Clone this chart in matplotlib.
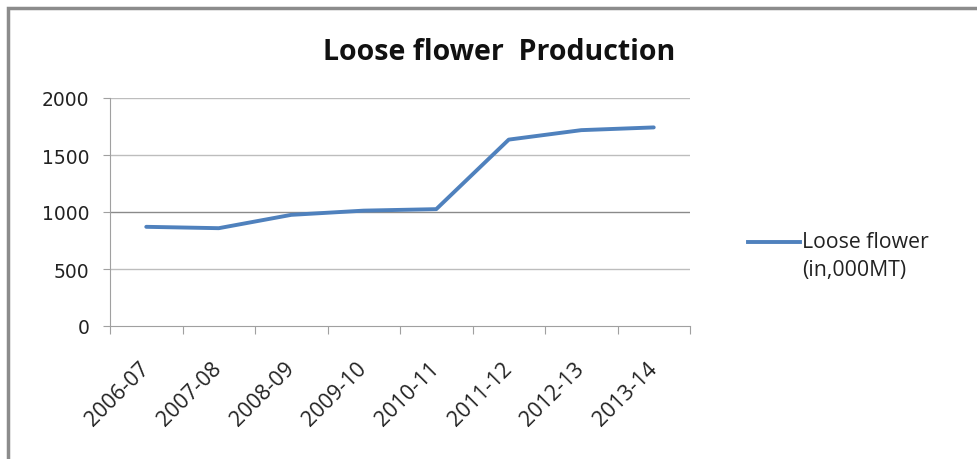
import matplotlib.pyplot as plt
from matplotlib.patches import Rectangle
from matplotlib.lines import Line2D

# data
years = ["2006-07", "2007-08", "2008-09", "2009-10", "2010-11",
         "2011-12", "2012-13", "2013-14"]
production = [870, 858, 975, 1012, 1025, 1635, 1718, 1742]
y_ticks = [0, 500, 1000, 1500, 2000]
series_name = "Loose flower\n(in,000MT)"

W, H = 977, 460
fig = plt.figure(figsize=(W / 100, H / 100), dpi=100)

# outer chart frame
fig.patches.append(Rectangle((8 / W, -0.02), 1.0, 1 - 9 / H + 0.02,
                             transform=fig.transFigure, fill=False,
                             edgecolor="#8c8c8c", linewidth=2.5))

ax = fig.add_axes([110 / W, 1 - 327 / H, 580 / W, 228 / H])

x = [i + 0.5 for i in range(len(years))]
line, = ax.plot(x, production, color="#4F81BD", linewidth=2.8,
                solid_capstyle="round")

ax.set_xlim(0, len(years))
ax.set_ylim(0, 2000)
ax.set_yticks(y_ticks)
ax.set_yticklabels([str(v) for v in y_ticks], family="DejaVu Sans",
                   fontsize=13.5, color="#222222")
ax.set_xticks(range(len(years) + 1))
ax.set_xticklabels([])
ax.set_xticks(x, minor=True)
ax.set_xticklabels(years, minor=True, rotation=45, ha="right", va="center",
                   rotation_mode="anchor", family="Open Sans",
                   fontsize=15.5, color="#222222")
ax.tick_params(axis="x", which="minor", length=0, pad=28)
ax.tick_params(axis="x", which="major", length=6, color="#a0a0a0", direction="out")
ax.tick_params(axis="y", length=5, color="#a0a0a0", direction="out", pad=10)

for v in y_ticks[1:]:
    ax.axhline(v, color="#8a8a8a" if v == 1000 else "#bdbdbd",
               linewidth=1.0, zorder=0)

for side in ["top", "right"]:
    ax.spines[side].set_visible(False)
ax.spines["left"].set_color("#a0a0a0")
ax.spines["bottom"].set_color("#a0a0a0")

fig.text(499 / W, 1 - 52 / H, "Loose flower  Production", ha="center",
         va="center", family="Open Sans", fontweight="bold", fontsize=20.5,
         color="#111111")

# legend: handle aligned with the first text line
fig.add_artist(Line2D([748 / W, 800 / W], [1 - 243 / H, 1 - 243 / H],
                      transform=fig.transFigure, color=line.get_color(),
                      linewidth=2.8))
fig.text(802 / W, 1 - 232 / H, series_name, ha="left", va="top",
         family="Open Sans", fontsize=15.3, linespacing=1.42, color="#222222")

fig.savefig("out.png", dpi=100)
